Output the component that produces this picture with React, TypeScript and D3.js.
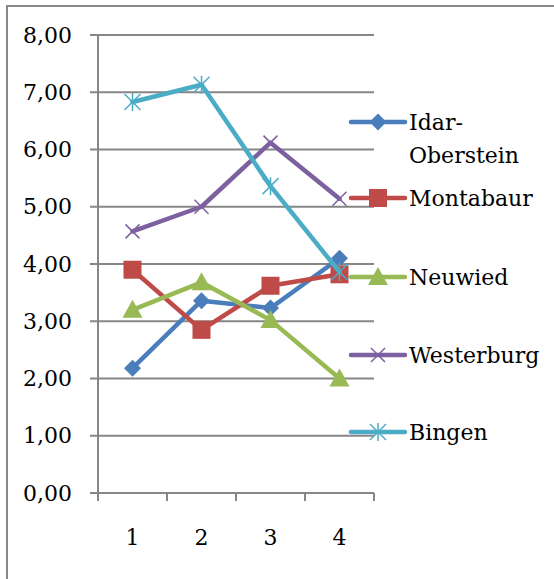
import React from "react";
import * as d3 from "d3";

const categories = ["1", "2", "3", "4"];
const yTicks = [0, 1, 2, 3, 4, 5, 6, 7, 8];
const seriesNames = ["Idar-Oberstein", "Montabaur", "Neuwied", "Westerburg", "Bingen"];
const idarOberstein = [2.18, 3.36, 3.23, 4.1];
const montabaur = [3.9, 2.85, 3.62, 3.82];
const neuwied = [3.2, 3.68, 3.02, 2.0];
const westerburg = [4.57, 5.0, 6.12, 5.14];
const bingen = [6.83, 7.13, 5.36, 3.86];
const colors = ["#4A7EBB", "#BE4B48", "#98B954", "#7D60A0", "#4BACC6"];
const markers = ["diamond", "square", "triangle", "x", "star"];

const FONT = "'DejaVu Serif', serif";
const FS = 22;

function Marker({ type, x, y, color }: { type: string; x: number; y: number; color: string }) {
  if (type === "diamond") {
    const r = 8.5;
    return <path d={`M${x},${y - r}L${x + r},${y}L${x},${y + r}L${x - r},${y}Z`} fill={color} />;
  }
  if (type === "square") {
    const r = 9;
    return <rect x={x - r} y={y - r} width={2 * r} height={2 * r} fill={color} />;
  }
  if (type === "triangle") {
    const r = 10;
    return <path d={`M${x},${y - r}L${x + r},${y + r * 0.8}L${x - r},${y + r * 0.8}Z`} fill={color} />;
  }
  if (type === "x") {
    const r = 7;
    return (
      <path d={`M${x - r},${y - r}L${x + r},${y + r}M${x - r},${y + r}L${x + r},${y - r}`} stroke={color} strokeWidth={1.5} fill="none" />
    );
  }
  const r = 8;
  return (
    <path
      d={`M${x - r},${y - r}L${x + r},${y + r}M${x - r},${y + r}L${x + r},${y - r}M${x},${y - r - 1}L${x},${y + r + 1}`}
      stroke={color}
      strokeWidth={1.5}
      fill="none"
    />
  );
}

export default function App() {
  const width = 554;
  const height = 579;
  const data = [idarOberstein, montabaur, neuwied, westerburg, bingen];
  const x = d3.scaleBand().domain(categories).range([98, 374]);
  const y = d3.scaleLinear().domain([0, 8]).range([493, 35]);
  const line = d3
    .line<number>()
    .x((_, i) => (x(categories[i]) as number) + x.bandwidth() / 2)
    .y((d) => y(d));
  const legendY = [122, 198, 277, 355, 432];
  const grid = "#868686";
  return (
    <svg width={width} height={height} style={{ position: "absolute", left: 0, top: 0 }}>
      <rect x={0} y={0} width={width} height={height} fill="#fff" />
      <rect x={7} y={6} width={width + 10} height={height + 10} fill="none" stroke="#888" strokeWidth={2} />
      {yTicks.map((t) => (
        <g key={t}>
          <line x1={90} x2={374} y1={y(t)} y2={y(t)} stroke={grid} strokeWidth={2} />
          <text x={72} y={y(t)} textAnchor="end" dominantBaseline="central" fontFamily={FONT} fontSize={FS} fill="#000">
            {t.toFixed(2).replace(".", ",")}
          </text>
        </g>
      ))}
      <line x1={98} x2={98} y1={35} y2={501} stroke={grid} strokeWidth={2} />
      {[...categories.map((c) => x(c) as number), 374].map((px, i) => (
        <line key={i} x1={px} x2={px} y1={493} y2={501} stroke={grid} strokeWidth={2} />
      ))}
      {categories.map((c) => (
        <text key={c} x={(x(c) as number) + x.bandwidth() / 2} y={537} textAnchor="middle" dominantBaseline="central" fontFamily={FONT} fontSize={FS} fill="#000">
          {c}
        </text>
      ))}
      {data.map((s, si) => (
        <g key={si}>
          <path d={line(s) || ""} fill="none" stroke={colors[si]} strokeWidth={4.5} strokeLinejoin="round" strokeLinecap="round" />
          {s.map((v, i) => (
            <Marker key={i} type={markers[si]} x={(x(categories[i]) as number) + x.bandwidth() / 2} y={y(v)} color={colors[si]} />
          ))}
        </g>
      ))}
      {seriesNames.map((n, si) => (
        <g key={n}>
          <line x1={351} x2={405} y1={legendY[si]} y2={legendY[si]} stroke={colors[si]} strokeWidth={4.5} strokeLinecap="round" />
          <Marker type={markers[si]} x={378} y={legendY[si]} color={colors[si]} />
          {n === "Idar-Oberstein" ? (
            <text x={409} y={legendY[si]} dominantBaseline="central" fontFamily={FONT} fontSize={FS} fill="#000">
              <tspan x={409}>Idar-</tspan>
              <tspan x={409} dy={33}>Oberstein</tspan>
            </text>
          ) : (
            <text x={409} y={legendY[si]} dominantBaseline="central" fontFamily={FONT} fontSize={FS} fill="#000">
              {n}
            </text>
          )}
        </g>
      ))}
    </svg>
  );
}
